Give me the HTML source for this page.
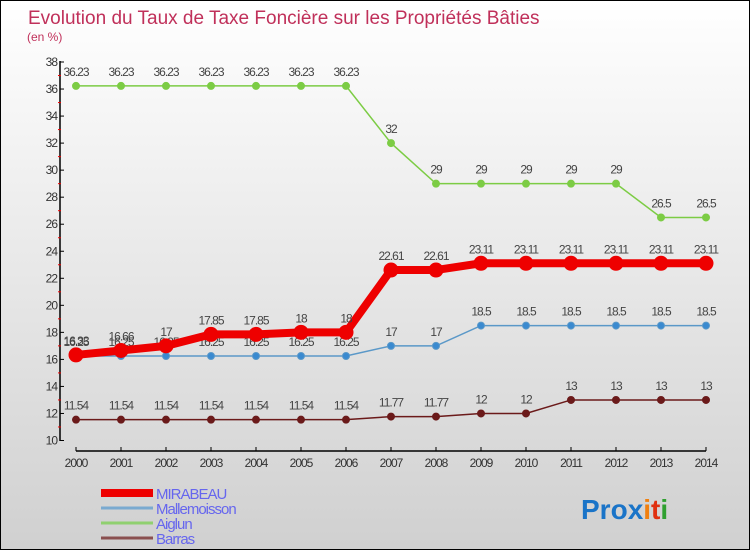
<!DOCTYPE html>
<html><head><meta charset="utf-8"><style>
body{margin:0;width:750px;height:550px;overflow:hidden}
#c{position:relative;width:748px;height:548px;border:1px solid #000;background:linear-gradient(#ffffff,#d0d0d0);font-family:"Liberation Sans",sans-serif}
</style></head><body>
<div id="c">
<svg id="s" width="748" height="548" xmlns="http://www.w3.org/2000/svg">
<text x="27" y="23" font-size="19" fill="#c0305a">Evolution du Taux de Taxe Foncière sur les Propriétés Bâties</text>
<text x="26" y="40" font-size="12" fill="#c0305a">(en %)</text>
<g id="g"></g>
<text x="580" y="518" font-size="28" font-weight="bold"><tspan fill="#1a74c8">Pro</tspan><tspan fill="#1a74c8">x</tspan><tspan fill="#f08010">i</tspan><tspan fill="#e03010">t</tspan><tspan fill="#30a030">i</tspan></text>
</svg>
</div>
<script>
const years=[2000,2001,2002,2003,2004,2005,2006,2007,2008,2009,2010,2011,2012,2013,2014];
const mirabeau=[16.33,16.66,17,17.85,17.85,18,18,22.61,22.61,23.11,23.11,23.11,23.11,23.11,23.11];
const mallemoisson=[16.25,16.25,16.25,16.25,16.25,16.25,16.25,17,17,18.5,18.5,18.5,18.5,18.5,18.5];
const aiglun=[36.23,36.23,36.23,36.23,36.23,36.23,36.23,32,29,29,29,29,29,26.5,26.5];
const barras=[11.54,11.54,11.54,11.54,11.54,11.54,11.54,11.77,11.77,12,12,13,13,13,13];
const yTicks=[10,12,14,16,18,20,22,24,26,28,30,32,34,36,38];
const NS="http://www.w3.org/2000/svg";
const g=document.getElementById('g');
const X=i=>75+i*45;
const Y=v=>439.5-(v-10)*(378.5/28);
function el(t,a){const e=document.createElementNS(NS,t);for(const k in a)e.setAttribute(k,a[k]);g.appendChild(e);return e;}
let e=el('line',{x1:59,y1:60,x2:59,y2:440,stroke:'#000','stroke-width':1.5});


e=el('line',{x1:75,y1:450,x2:705,y2:450,stroke:'#000','stroke-width':1.5});


yTicks.forEach(v=>{
 el('line',{x1:59,y1:Y(v),x2:63,y2:Y(v),stroke:'#000'});
 if(v<38) el('line',{x1:57,y1:Y(v+1),x2:60,y2:Y(v+1),stroke:'#e00'});
 const t=el('text',{x:56,y:Y(v)+4,'font-size':12,'text-anchor':'end',fill:'#333','letter-spacing':'-1'});
 t.textContent=v;
 
 
});
years.forEach((y,i)=>{
 el('line',{x1:X(i),y1:446,x2:X(i),y2:450,stroke:'#000'});
 const t=el('text',{x:X(i),y:466,'font-size':12,'text-anchor':'middle',fill:'#333','letter-spacing':'-1'});
 t.textContent=y;
 
 
});
function series(data,color,w,r,name,fill){
 const pts=data.map((v,i)=>X(i)+','+Y(v)).join(' ');
 const p=el('polyline',{points:pts,fill:'none',stroke:color,'stroke-width':w});
 
 
 data.forEach((v,i)=>{
  const c=el('circle',{cx:X(i),cy:Y(v),r:r,fill:fill,stroke:color,'stroke-width':1});
  
  
  const t=el('text',{x:X(i),y:Y(v)-10,'font-size':12,'text-anchor':'middle',fill:'#444','letter-spacing':'-1'});
  t.textContent=v;
  
  
 });
}
series(barras,'#6b1a1a',1.5,3.5,'barras','#6b1a1a');
series(aiglun,'#7ccc44',1.5,3.5,'aiglun','#7ccc44');
series(mallemoisson,'#5a98c8',1.5,3.5,'mallemoisson','#3a8ad0');
series(mirabeau,'#ee0000',8,7,'mirabeau','#ee0000');
const leg=[['MIRABEAU','#ee0000',8],['Mallemoisson','#7aaad0',3],['Aiglun','#90d070',3],['Barras','#8a5050',3]];
leg.forEach((l,i)=>{
 const y=492+i*15;
 const ln=el('line',{x1:100,y1:y,x2:152,y2:y,stroke:l[1],'stroke-width':l[2]});
 
 
 const t=el('text',{x:155,y:y+6,'font-size':15,fill:'#6666ee','letter-spacing':'-1'});
 t.textContent=l[0];
 
 
});
</script>
</body></html>
